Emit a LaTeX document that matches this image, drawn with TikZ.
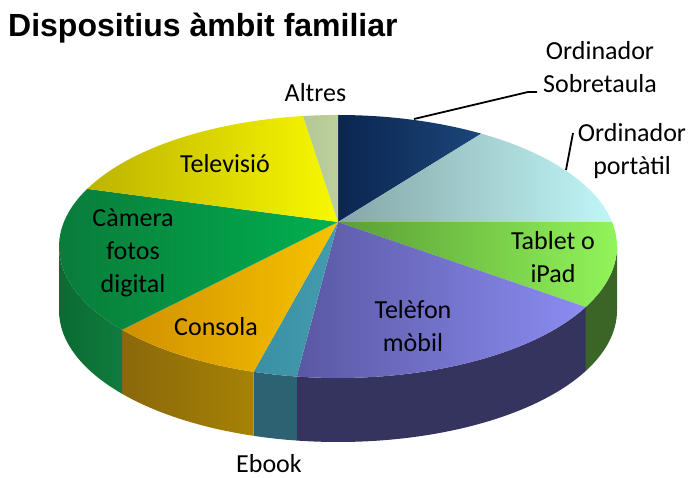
\documentclass[tikz,border=0pt]{standalone}
\usepackage{fontspec}
\setmainfont{Carlito}
\newfontfamily\titlefont{Liberation Sans}
\usetikzlibrary{calc}
\definecolor{sobA}{HTML}{0B2550}\definecolor{sobB}{HTML}{1B4679}
\definecolor{porA}{HTML}{86A6A6}\definecolor{porB}{HTML}{C0F6F8}
\definecolor{tabA}{HTML}{5A9E35}\definecolor{tabB}{HTML}{93F65B}
\definecolor{telA}{HTML}{5A58A3}\definecolor{telB}{HTML}{8C8CF2}
\definecolor{ebkA}{HTML}{3A8FA3}\definecolor{ebkB}{HTML}{459CAF}
\definecolor{conA}{HTML}{D09000}\definecolor{conB}{HTML}{F7C300}
\definecolor{camA}{HTML}{0A7838}\definecolor{camB}{HTML}{00B050}
\definecolor{tvA}{HTML}{BDB300}\definecolor{tvB}{HTML}{F8F800}
\definecolor{altA}{HTML}{B4C894}\definecolor{altB}{HTML}{BCD09C}
\definecolor{stab}{HTML}{3B6526}
\definecolor{stel}{HTML}{35345E}
\definecolor{sebk}{HTML}{2C6272}
\definecolor{sconA}{HTML}{8A680C}\definecolor{sconB}{HTML}{A68204}
\definecolor{scamA}{HTML}{0B6A33}\definecolor{scamB}{HTML}{0F7C3D}
\begin{document}
\begin{tikzpicture}[x=1pt,y=-1pt,
  lbl/.style={font=\fontsize{26}{33}\selectfont, align=center, inner sep=0pt, anchor=base},
  leader/.style={line width=1.8pt, draw=black}]
\useasboundingbox (0,0) rectangle (691,478);
\coordinate (C) at (338,246.5);
\coordinate (A) at (338,222);
\newcommand\sideface[4]{%
  \shade[left color=#3, right color=#4] ($(C)+(#1:279 and 131.5)$)
    arc[start angle=#1, end angle=#2, x radius=279, y radius=131.5]
    -- ++(0,64)
    arc[start angle=#2, end angle=#1, x radius=279, y radius=131.5] -- cycle;}
\newcommand\topface[4]{%
  \shade[left color=#3, right color=#4] (A) -- ($(C)+(#1:279 and 131.5)$)
    arc[start angle=#1, end angle=#2, x radius=279, y radius=131.5] -- cycle;}
% side faces
\sideface{0}{27.4}{stab}{stab}
\sideface{27.4}{98.5}{stel}{stel}
\sideface{98.5}{107.6}{sebk}{sebk}
\sideface{107.6}{140.7}{sconA}{sconB}
\sideface{140.7}{180}{scamA}{scamB}
% top faces
\topface{270}{300.9}{sobA}{sobB}
\topface{300.9}{349.3}{porA}{porB}
\topface{349.3}{387.4}{tabA}{tabB}
\topface{27.4}{98.5}{telA}{telB}
\topface{98.5}{107.6}{ebkA}{ebkB}
\topface{107.6}{140.7}{conA}{conB}
\topface{140.7}{206}{camA}{camB}
\topface{206}{262.8}{tvA}{tvB}
\topface{262.8}{270}{altA}{altB}
% title
\node[font=\titlefont\bfseries\fontsize{32}{32}\selectfont, anchor=base west, inner sep=0pt] (title) at (8,37) {Dispositius àmbit familiar};
% labels (base = baseline of last line)
\node[lbl] (altres) at (315.5,102) {Altres};
\node[lbl] (sobre) at (600,93) {Ordinador\\Sobretaula};
\node[lbl] (port) at (632,175) {Ordinador\\portàtil};
\node[lbl] (tablet) at (553,283) {Tablet o\\iPad};
\node[lbl] (telefon) at (413,352) {Telèfon\\mòbil};
\node[lbl] (consola) at (216,336) {Consola};
\node[lbl] (camera) at (133,293) {Càmera\\fotos\\digital};
\node[lbl] (tele) at (225,173) {Televisió};
\node[lbl] (ebook) at (269,472.5) {Ebook};
% leaders
\coordinate (s1) at (414,119);
\coordinate (s2) at (528,92);
\coordinate (s3) at (537,92);
\draw[leader] (s1) -- (s2) -- (s3);
\coordinate (p1) at (566,170);
\coordinate (p2) at (573,133);
\draw[leader] (p1) -- (p2);
\end{tikzpicture}
\end{document}
